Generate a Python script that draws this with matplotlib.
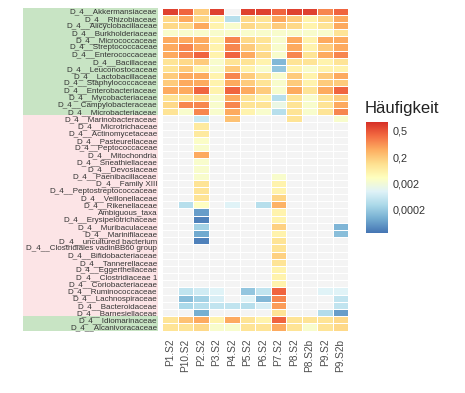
import numpy as np
import matplotlib
matplotlib.use('Agg')
import matplotlib.pyplot as plt
from matplotlib.colors import LinearSegmentedColormap
from matplotlib.patches import Rectangle
from matplotlib.transforms import blended_transform_factory

# Familien (Zeilen von oben nach unten)
families = [
    'Akkermansiaceae', 'Rhizobiaceae', 'Alicyclobacillaceae', 'Burkholderiaceae',
    'Micrococcaceae', 'Streptococcaceae', 'Enterococcaceae', 'Bacillaceae',
    'Leuconostocaceae', 'Lactobacillaceae', 'Staphylococcaceae', 'Enterobacteriaceae',
    'Mycobacteriaceae', 'Campylobacteraceae', 'Microbacteriaceae',
    'Marinobacteraceae', 'Microtrichaceae', 'Actinomycetaceae', 'Pasteurellaceae',
    'Peptococcaceae', 'Mitochondria', 'Sneathiellaceae', 'Devosiaceae',
    'Paenibacillaceae', 'Family XIII', 'Peptostreptococcaceae', 'Veillonellaceae',
    'Rikenellaceae', 'Ambiguous_taxa', 'Erysipelotrichaceae', 'Muribaculaceae',
    'Marinifilaceae', 'uncultured bacterium', 'Clostridiales vadinBB60 group',
    'Bifidobacteriaceae', 'Tannerellaceae', 'Eggerthellaceae', 'Clostridiaceae 1',
    'Coriobacteriaceae', 'Ruminococcaceae', 'Lachnospiraceae', 'Bacteroidaceae',
    'Barnesiellaceae',
    'Idiomarinaceae', 'Alcanivoracaceae',
]
row_labels = [f if f == 'Ambiguous_taxa' else 'D_4__' + f for f in families]
# Gruppe je Zeile: 'g' = gruen, 'r' = rosa
groups = ['g'] * 15 + ['r'] * 28 + ['g'] * 2

samples = ['P1.S2', 'P10.S2', 'P2.S2', 'P3.S2', 'P4.S2', 'P5.S2', 'P6.S2',
           'P7.S2', 'P8.S2', 'P8.S2b', 'P9.S2', 'P9.S2b']

# relative Haeufigkeit je Probe (0 = nicht gefunden)
p1 = [0.6, 0.1, 0.1, 0.003, 0.27, 0.27, 0.27, 0.05, 0.05, 0.2, 0.2, 0.27, 0.05, 0.1, 0.05,
      0, 0, 0, 0, 0, 0, 0, 0, 0, 0, 0, 0, 0, 0, 0, 0, 0, 0, 0, 0, 0, 0, 0, 0, 0, 0, 0, 0,
      0.05, 0.05]
p10 = [0.45, 0.27, 0.1, 0.003, 0.27, 0.35, 0.35, 0.1, 0.2, 0.27, 0.27, 0.27, 0.05, 0.35, 0.003,
       0, 0, 0, 0, 0, 0, 0, 0, 0, 0, 0, 0, 0.0004, 0, 0, 0, 0, 0, 0, 0, 0, 0, 0, 0,
       0.0005, 0.00015, 0.0003, 0,
       0.22, 0.05]
p2 = [0.2, 0.1, 0.27, 0.003, 0.27, 0.27, 0.45, 0.2, 0.015, 0.27, 0.27, 0.45, 0.1, 0.35, 0.35,
      0.0006, 0.03, 0.03, 0.004, 0.003, 0.27, 0.003, 0.003, 0.003, 0.05, 0.05, 0.05, 0.005,
      0.00007, 0.00004, 0.00025, 0.00009, 0.00004, 0, 0, 0, 0, 0, 0,
      0.0007, 0.00025, 0.0004, 0.0001,
      0.27, 0.1]
p3 = [0.6, 0.015, 0.015, 0.003, 0.015, 0.015, 0.015, 0.003, 0.003, 0.015, 0.015, 0.015, 0.003, 0.003, 0.003,
      0, 0, 0, 0, 0, 0, 0, 0, 0, 0, 0, 0, 0, 0, 0, 0, 0, 0, 0, 0, 0, 0, 0, 0,
      0.001, 0.0008, 0.0005, 0,
      0.015, 0.003]
p4 = [0, 0.0004, 0.003, 0.003, 0.35, 0.35, 0.45, 0.05, 0.2, 0.35, 0.27, 0.45, 0.27, 0.35, 0.27,
      0.22, 0, 0, 0, 0, 0, 0, 0, 0, 0, 0, 0, 0.001, 0, 0, 0, 0, 0, 0, 0, 0, 0, 0, 0,
      0, 0, 0.0005, 0,
      0.27, 0.003]
p5 = [0.6, 0.1, 0.1, 0.003, 0.1, 0.2, 0.27, 0.05, 0.015, 0.2, 0.2, 0.27, 0.05, 0.05, 0.015,
      0, 0, 0, 0, 0, 0, 0, 0, 0, 0, 0, 0, 0, 0, 0, 0, 0, 0, 0, 0, 0, 0, 0, 0,
      0.00018, 0.001, 0.0004, 0,
      0.05, 0.05]
p6 = [0.6, 0.05, 0.05, 0.003, 0.05, 0.05, 0.1, 0.015, 0.003, 0.05, 0.05, 0.2, 0.015, 0.05, 0.003,
      0, 0, 0, 0, 0, 0, 0, 0, 0, 0, 0, 0, 0.0004, 0, 0, 0, 0, 0, 0, 0, 0, 0, 0, 0,
      0.0005, 0.00013, 0.0008, 0,
      0.015, 0.05]
p7 = [0.45, 0.27, 0.2, 0.003, 0.003, 0.003, 0.003, 0.00013, 0.00018, 0.003, 0.003, 0.003, 0.0004, 0.0015, 0.0004,
      0, 0, 0, 0, 0, 0, 0, 0, 0.003, 0.015, 0.015, 0.12, 0.25, 0.015, 0.015, 0.15, 0.015, 0.05,
      0.05, 0.15, 0.05, 0.015, 0.015, 0.015,
      0.45, 0.35, 0.3, 0.05,
      0.45, 0.27]
p8 = [0.6, 0.2, 0.1, 0.003, 0.27, 0.27, 0.35, 0.05, 0.015, 0.2, 0.2, 0.27, 0.05, 0.05, 0.05,
      0.05, 0, 0, 0, 0, 0, 0, 0, 0, 0, 0, 0, 0, 0, 0, 0, 0, 0, 0, 0, 0, 0, 0, 0,
      0, 0, 0, 0,
      0.05, 0.05]
p8b = [0.6, 0.015, 0.015, 0.003, 0.015, 0.015, 0.05, 0.05, 0.003, 0.015, 0.015, 0.05, 0.003, 0.003, 0.003,
       0, 0, 0, 0, 0, 0, 0, 0, 0, 0, 0, 0, 0, 0, 0, 0, 0, 0, 0, 0, 0, 0, 0, 0,
       0, 0, 0, 0,
       0.05, 0.003]
p9 = [0.35, 0.1, 0.05, 0.003, 0.27, 0.2, 0.27, 0.015, 0.015, 0.2, 0.2, 0.27, 0.05, 0.05, 0.05,
      0, 0, 0, 0, 0, 0, 0, 0, 0, 0, 0, 0, 0, 0, 0, 0, 0, 0, 0, 0, 0, 0, 0, 0,
      0.001, 0, 0, 0.00035,
      0.05, 0.05]
p9b = [0.45, 0.27, 0.27, 0.05, 0.27, 0.27, 0.35, 0.05, 0.015, 0.27, 0.2, 0.45, 0.2, 0.27, 0.35,
       0.003, 0, 0, 0, 0, 0, 0, 0, 0, 0, 0, 0, 0, 0, 0, 0.00012, 0.00015, 0, 0, 0, 0, 0, 0, 0,
       0.001, 0.0005, 0.0005, 0.00007,
       0.1, 0.1]

cbar_ticks = [0.5, 0.2, 0.002, 0.0002]
cbar_labels = ['0,5', '0,2', '0,002', '0,0002']

# Farbskala (RdYlBu, umgedreht) und nichtlineare Skalierung wie in der Vorlage
cmap = LinearSegmentedColormap.from_list('rdylbu', [
    '#4575b4', '#74add1', '#abd9e9', '#e0f3f8', '#ffffbf',
    '#fee090', '#fdae61', '#f46d43', '#d73027'])
cmap.set_bad('#f4f4f4')
log_pts = [-4.52, -3.7, -2.7, -0.7, -0.3, -0.155]
pos_pts = [0.0, 0.207, 0.45, 0.676, 0.92, 1.0]


def scale(v):
    v = np.asarray(v, dtype=float)
    out = np.full(v.shape, np.nan)
    ok = v > 0
    out[ok] = np.interp(np.log10(v[ok]), log_pts, pos_pts)
    return out


data = np.column_stack([p1, p10, p2, p3, p4, p5, p6, p7, p8, p8b, p9, p9b])
z = np.ma.masked_invalid(scale(data))

fig = plt.figure(figsize=(4.65, 3.93), dpi=100)
W, H = 465, 393
ax = fig.add_axes([162 / W, 1 - 330.5 / H, 186 / W, 323 / H])

ax.pcolormesh(np.arange(len(samples) + 1), np.arange(len(families) + 1), z,
              cmap=cmap, vmin=0, vmax=1, edgecolors='white', linewidth=0.6)
ax.set_xlim(0, len(samples))
ax.set_ylim(len(families), 0)
for s in ax.spines.values():
    s.set_visible(False)

ax.set_yticks(np.arange(len(families)) + 0.5)
ax.set_yticklabels(row_labels, fontsize=5.8, color='#333333', family=['Liberation Sans', 'DejaVu Sans'])
ax.set_xticks(np.arange(len(samples)) + 0.5)
ax.set_xticklabels(samples, rotation=90, fontsize=7.3, color='#4d4d4d',
                   family=['Liberation Sans', 'DejaVu Sans'], va='top')
ax.tick_params(axis='y', length=0, pad=3.5)
ax.tick_params(axis='x', length=0, pad=6)

# farbige Hinterlegung der Zeilenbeschriftungen
tr = blended_transform_factory(ax.transAxes, ax.transData)
x0 = -(162 - 23) / 186
x1 = -(162 - 158) / 186
colors = {'g': '#c8e4c4', 'r': '#fce4e6'}
start = 0
for i in range(1, len(groups) + 1):
    if i == len(groups) or groups[i] != groups[start]:
        ax.add_patch(Rectangle((x0, start), x1 - x0, i - start, transform=tr,
                               facecolor=colors[groups[start]], edgecolor='none',
                               clip_on=False, zorder=0.5))
        start = i

# Farbleiste
cax = fig.add_axes([366 / W, 1 - 233 / H, 22 / W, 111 / H])
cax.imshow(np.linspace(0, 1, 256)[:, None], aspect='auto', cmap=cmap,
           origin='lower', extent=[0, 1, 0, 1])
cax.set_xticks([])
cax.yaxis.tick_right()
cax.set_yticks(scale(cbar_ticks))
cax.set_yticklabels(cbar_labels, fontsize=7.8, color='#333333',
                    family=['Liberation Sans', 'DejaVu Sans'])
cax.tick_params(axis='y', length=0, pad=3)
for s in cax.spines.values():
    s.set_visible(False)

fig.text(365 / W, 1 - 113 / H, 'Häufigkeit', fontsize=12, ha='left', va='baseline',
         color='#222222', family=['Liberation Sans', 'DejaVu Sans'])

fig.savefig('out.png', dpi=100)
